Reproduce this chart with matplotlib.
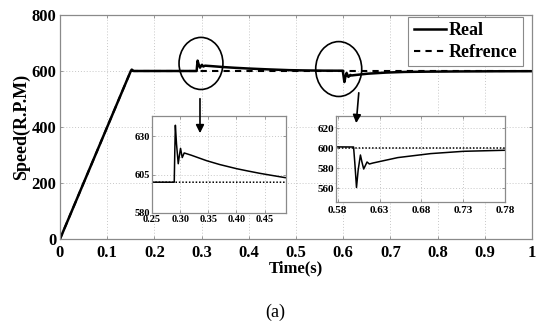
import matplotlib
matplotlib.use("Agg")
import matplotlib.pyplot as plt
from matplotlib.patches import Ellipse, FancyArrowPatch

# ---- data ----
real_t = [0, 0.15, 0.152, 0.156, 0.2895, 0.2905, 0.2915, 0.2935, 0.2966, 0.2985,
          0.3007, 0.3037, 0.3072, 0.32, 0.3468, 0.37, 0.40, 0.42, 0.441, 0.46,
          0.486, 0.52, 0.56, 0.599, 0.6005, 0.6025, 0.6045, 0.6072, 0.609, 0.6111,
          0.6151, 0.6179, 0.6222, 0.6518, 0.6912, 0.7306, 0.778, 0.85, 0.92, 1.0]
real_v = [0, 600, 605, 600, 600, 620, 637, 625, 612, 617,
          622, 616, 619, 617.5, 614, 611.5, 608.8, 607.3, 605.8, 604.6,
          603, 602, 601.2, 601, 585, 560.5, 578, 593, 586, 579,
          586, 584, 585, 590.4, 594.4, 596.7, 597.7, 598.5, 599, 599.3]
ref_t = [0, 0.15, 1.0]
ref_v = [0, 600, 600]

main_xticks = [0, 0.1, 0.2, 0.3, 0.4, 0.5, 0.6, 0.7, 0.8, 0.9, 1.0]
main_xlabels = ["0", "0.1", "0.2", "0.3", "0.4", "0.5", "0.6", "0.7", "0.8", "0.9", "1"]
main_yticks = [0, 200, 400, 600, 800]
in1_xticks = [0.25, 0.30, 0.35, 0.40, 0.45]
in1_xlabels = ["0.25", "0.30", "0.35", "0.40", "0.45"]
in1_yticks = [580, 605, 630]
in2_xticks = [0.58, 0.63, 0.68, 0.73, 0.78]
in2_xlabels = ["0.58", "0.63", "0.68", "0.73", "0.78"]
in2_yticks = [560, 580, 600, 620]

SERIF = ["Liberation Serif", "DejaVu Serif"]
plt.rcParams["font.family"] = SERIF
plt.rcParams["font.weight"] = "bold"

fig = plt.figure(figsize=(5.5, 3.26), dpi=100)
ax = fig.add_axes([60/550, 1-239/326, 472/550, 224/326])

def style(a, fs, xpad=1.5, ypad=1.5):
    for s in a.spines.values():
        s.set_color("#8a8a8a")
        s.set_linewidth(0.9)
    a.tick_params(direction="in", top=True, right=True, length=2.5, width=0.6,
                  color="#8a8a8a", labelsize=fs)
    a.tick_params(axis="x", pad=xpad)
    a.tick_params(axis="y", pad=ypad)
    a.grid(True, linestyle=(0, (1, 2)), color="#c8c8c8", linewidth=0.7)
    for lab in a.get_xticklabels() + a.get_yticklabels():
        lab.set_fontweight("bold")

ax.plot(real_t, real_v, color="black", lw=1.8, label="Real")
ax.plot(ref_t, ref_v, color="black", lw=1.5, ls=(0, (3, 2.5)), label="Refrence")
ax.set_xlim(0, 1)
ax.set_ylim(0, 800)
ax.set_xticks(main_xticks)
ax.set_xticklabels(main_xlabels)
ax.set_yticks(main_yticks)
style(ax, 12, xpad=4, ypad=2.5)
ax.set_xlabel("Time(s)", fontsize=12, fontweight="bold", labelpad=0)
ax.set_ylabel("Speed(R.P.M)", fontsize=13, fontweight="bold", labelpad=1)

leg = ax.legend(loc="upper right", bbox_to_anchor=(0.981, 0.991), borderaxespad=0,
                fancybox=False, framealpha=1, edgecolor="#8a8a8a",
                prop={"family": SERIF, "weight": "bold", "size": 13},
                handlelength=1.8, handletextpad=0.15, borderpad=0.3, labelspacing=0.25)
leg.get_frame().set_linewidth(0.8)

# circles
ax.add_patch(Ellipse((0.2987, 627), 0.093, 186, fill=False, edgecolor="black", lw=1.2, zorder=5))
ax.add_patch(Ellipse((0.5905, 607), 0.0975, 196, fill=False, edgecolor="black", lw=1.2, zorder=5))

# inset 1
a1 = fig.add_axes([152/550, 1-213/326, 134/550, 97/326])
a1.plot(real_t, real_v, color="black", lw=1.1)
a1.plot(ref_t, ref_v, color="black", lw=1.1, ls=(0, (1, 1.2)))
a1.set_xlim(0.25, 0.488)
a1.set_ylim(580, 643)
a1.set_xticks(in1_xticks)
a1.set_xticklabels(in1_xlabels)
a1.set_yticks(in1_yticks)
style(a1, 7.5)

# inset 2
a2 = fig.add_axes([336/550, 1-202/326, 169/550, 86/326])
a2.plot(real_t, real_v, color="black", lw=1.1)
a2.plot(ref_t, ref_v, color="black", lw=1.1, ls=(0, (1, 1.2)))
a2.set_xlim(0.578, 0.778)
a2.set_ylim(546, 632)
a2.set_xticks(in2_xticks)
a2.set_xticklabels(in2_xlabels)
a2.set_yticks(in2_yticks)
style(a2, 8, xpad=3)

# arrows on top of everything (main-axes data coordinates)
for (x0, y0), (x1, y1) in [((0.2966, 511), (0.2966, 368)), ((0.6335, 532), (0.6271, 404))]:
    arr = FancyArrowPatch((x0, y0), (x1, y1), transform=ax.transData,
                          arrowstyle="-|>", mutation_scale=12, color="black",
                          lw=1.2, zorder=10)
    fig.add_artist(arr)

fig.text(275/550, 1-312/326, "(a)", ha="center", va="center", fontsize=13,
         fontweight="normal", family=SERIF)

fig.savefig("out.png", dpi=100)
